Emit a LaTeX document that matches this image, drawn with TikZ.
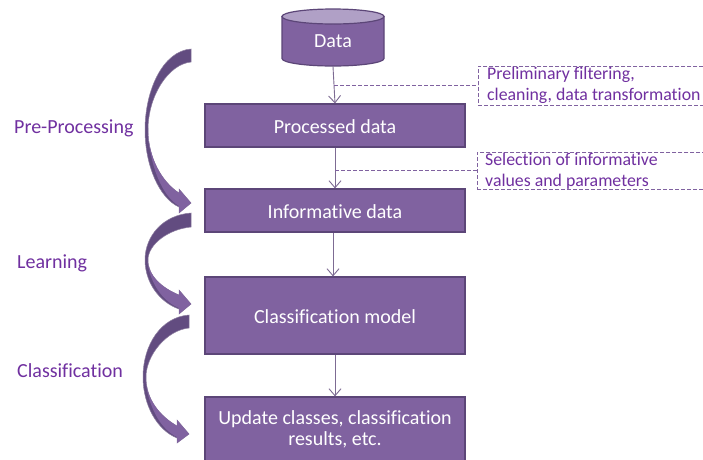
\documentclass[tikz,border=0pt]{standalone}
\usepackage{fontspec}
\setmainfont{Carlito}[Ligatures=NoCommon]
\usetikzlibrary{arrows.meta}
\definecolor{flowpurple}{RGB}{128,98,160}
\definecolor{flowedge}{RGB}{92,70,120}
\definecolor{flowdark}{RGB}{98,76,128}
\definecolor{flowtop}{RGB}{176,160,198}
\definecolor{flowtext}{RGB}{112,48,160}
\tikzset{
  stagebox/.style={draw=flowedge,line width=1.2pt,fill=flowpurple,text=white,
    minimum width=260pt,align=center,inner sep=0pt,font=\fontsize{20}{21}\selectfont},
  notebox/.style={draw=flowpurple,dash pattern=on 4pt off 2pt,line width=0.8pt,anchor=west,minimum width=240pt},
  notetext/.style={anchor=west,align=left,inner sep=0pt,text=flowtext,font=\fontsize{17.8}{21.5}\selectfont},
  stagelabel/.style={anchor=west,inner sep=0pt,text=flowtext,font=\fontsize{20}{22}\selectfont},
  flowarrow/.style={draw=flowedge!80,line width=0.9pt,-{Straight Barb[length=7pt,width=12pt]}},
  noteline/.style={draw=flowpurple,dash pattern=on 4pt off 2pt,line width=0.8pt},
  bendback/.style={draw=flowedge!70,line width=0.5pt,fill=flowdark},
  bendfront/.style={fill=flowpurple}
}
\begin{document}
\begin{tikzpicture}[x=1pt,y=-1pt]
\useasboundingbox (0,0) rectangle (703,459);
\clip (0,0) rectangle (703,459);
\fill[white] (0,0) rectangle (703,459);

% Data cylinder
\draw[draw=flowedge,line width=1.2pt,fill=flowpurple] (282,16.5) -- (282,58.5)
  arc[start angle=180,end angle=0,x radius=51,y radius=7.5] -- (384,16.5) -- cycle;
\draw[draw=flowedge,line width=1.2pt,fill=flowtop] (333,16.5) ellipse [x radius=51,y radius=7.5];

% Stages
\node[stagebox,draw=none,fill=none,minimum width=102pt,minimum height=50pt] (data) at (333,41) {Data};
\node[stagebox,minimum height=43pt,text height=16pt,text depth=0pt] (processed) at (335,125.5) {Processed data};
\node[stagebox,minimum height=43pt,text height=16pt,text depth=0pt] (informative) at (335,210.5) {Informative data};
\node[stagebox,minimum height=77pt,text height=16pt,text depth=0pt] (model) at (335,315.5) {Classification model};
\node[stagebox,minimum height=65pt] (update) at (335,429.5) {Update classes, classification\\results, etc.};

% Arrows between stages
\draw[flowarrow] (data.south) -- coordinate[pos=0.5] (filtermid) (processed.north);
\draw[flowarrow] (processed.south) -- coordinate[pos=0.55] (selectmid) (informative.north);
\draw[flowarrow] ([xshift=-2pt]informative.south) -- ([xshift=-2pt]model.north);
\draw[flowarrow] (model.south) -- (update.north);

% Notes
\node[notebox,minimum height=39pt] (filternote) at (478,85.5) {};
\node[notebox,minimum height=37pt] (selectnote) at (477,170.5) {};
\node[notetext] (filtertext) at (487,85.5) {Preliminary filtering,\\cleaning, data transformation};
\node[notetext] (selecttext) at (485,171) {Selection of informative\\values and parameters};
\draw[noteline] (filtermid) -- (filtermid -| filternote.west);
\draw[noteline] (selectmid) -- (selectmid -| selectnote.west);

% Phase labels
\node[stagelabel] (prelabel) at (14,128) {Pre-Processing};
\node[stagelabel] (learnlabel) at (17,263) {Learning};
\node[stagelabel] (classlabel) at (17,371) {Classification};

% Curved arrows
\draw[bendback] (191,49) .. controls (163,51) and (145,90) .. (145,130)
  .. controls (145,165) and (159,198) .. (179,207) -- (179,213) -- (191,203) -- (179,189) -- (179,193)
  .. controls (162,182) and (148,158) .. (148,130) .. controls (148,95) and (169,64) .. (191,62) -- cycle;
\fill[bendfront] (148,128) .. controls (148,158) and (162,182) .. (179,193) -- (179,189) -- (191,203) -- (179,213)
  -- (179,206) .. controls (162,196) and (149,165) .. (148,128) -- cycle;

\draw[bendback] (191,213) .. controls (163,215) and (145,236) .. (145,260)
  .. controls (145,282) and (159,302) .. (179,309) -- (179,314) -- (191,304) -- (179,290) -- (179,295)
  .. controls (162,288) and (148,276) .. (148,260) .. controls (148,244) and (169,229) .. (191,227) -- cycle;
\fill[bendfront] (147,258) .. controls (148,276) and (162,288) .. (179,295) -- (179,290) -- (191,304) -- (179,314)
  -- (179,308) .. controls (162,301) and (149,282) .. (147,258) -- cycle;

\draw[bendback] (189,315) .. controls (161,317) and (143,345) .. (143,377)
  .. controls (143,405) and (157,430) .. (177,438) -- (177,443) -- (189,434) -- (177,420) -- (177,426)
  .. controls (160,416) and (146,400) .. (146,377) .. controls (146,355) and (167,330) .. (189,328) -- cycle;
\fill[bendfront] (145,375) .. controls (146,400) and (160,416) .. (177,426) -- (177,420) -- (189,434) -- (177,443)
  -- (177,437) .. controls (160,429) and (147,405) .. (145,375) -- cycle;
\end{tikzpicture}
\end{document}
